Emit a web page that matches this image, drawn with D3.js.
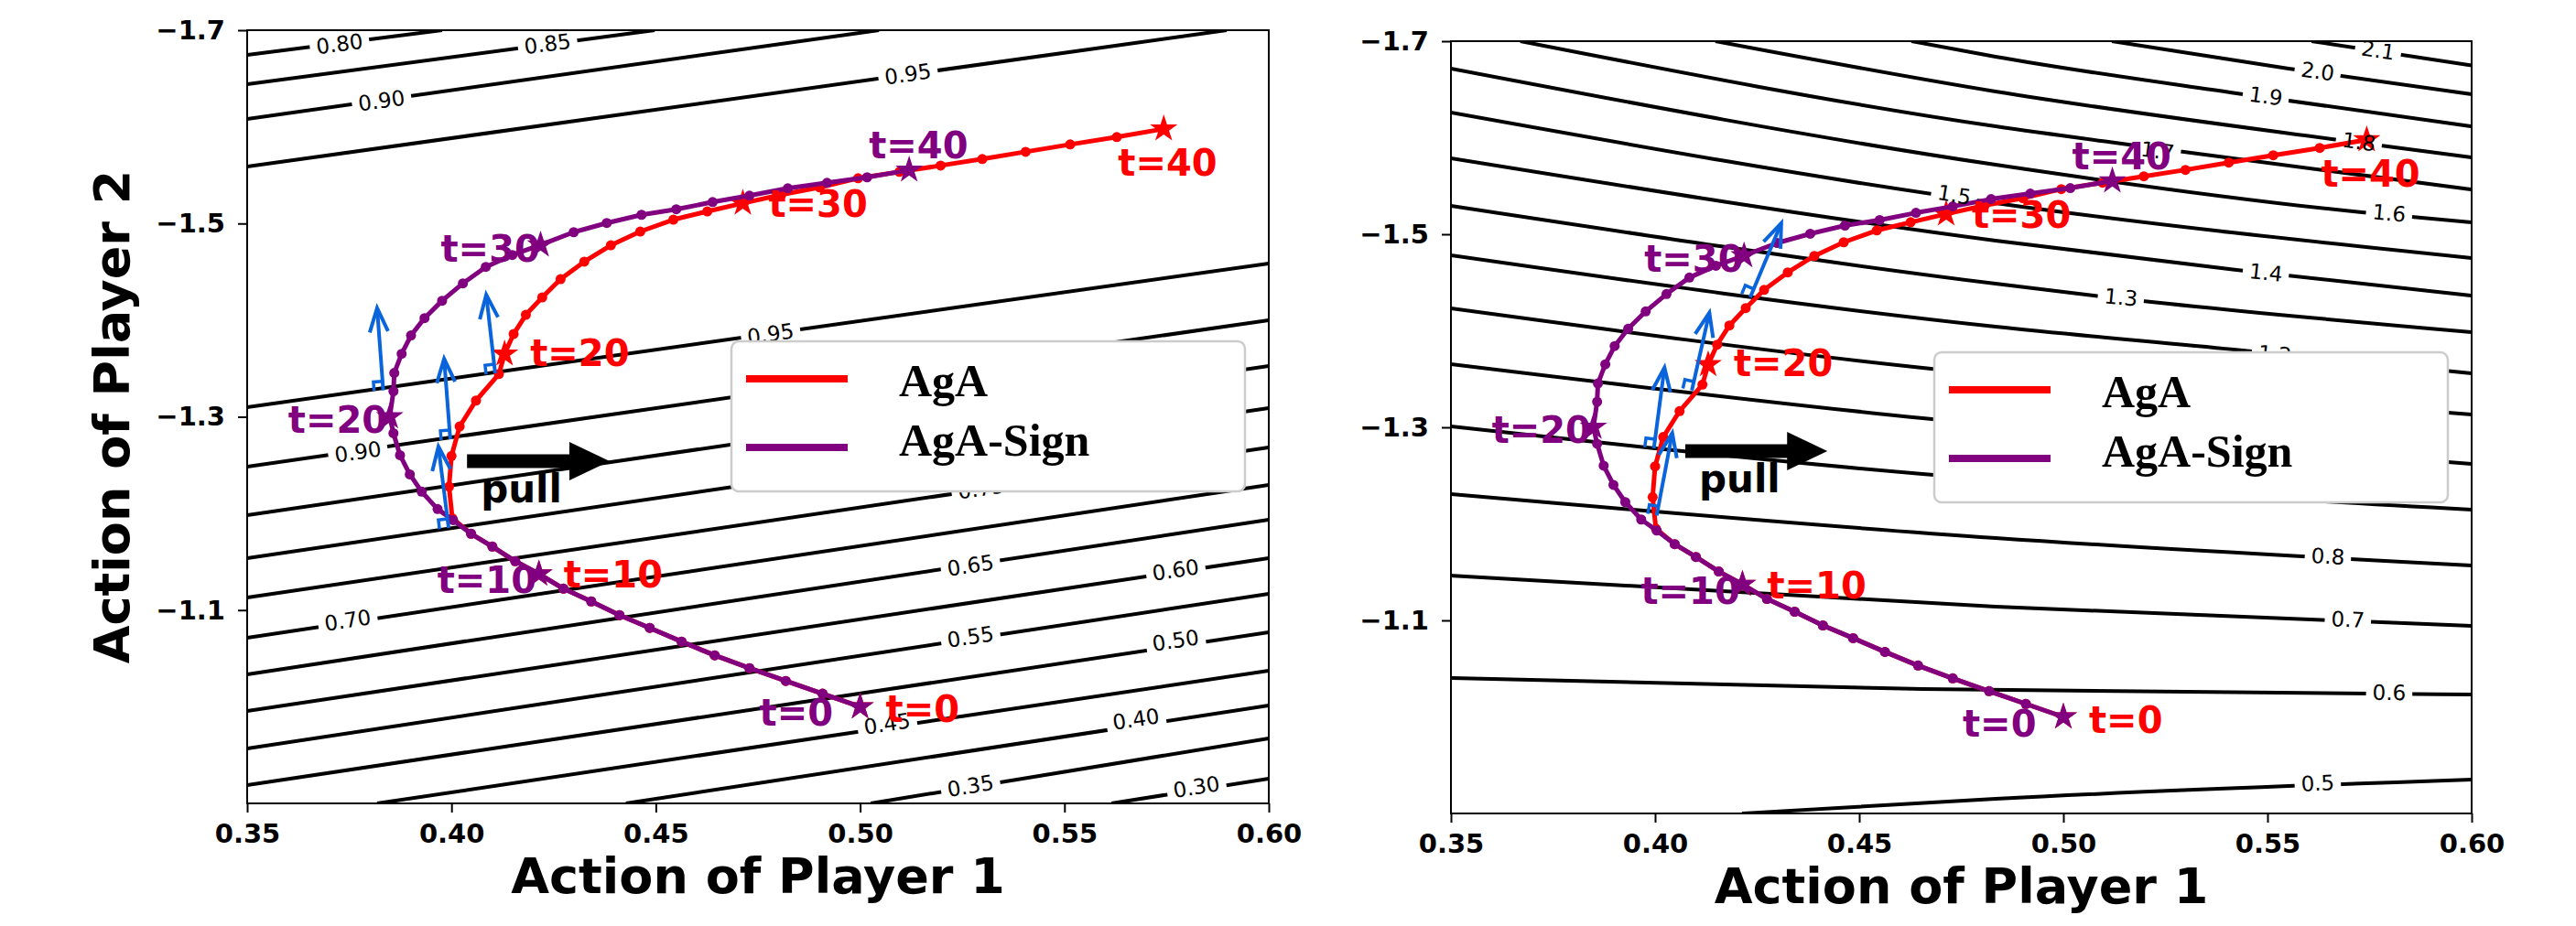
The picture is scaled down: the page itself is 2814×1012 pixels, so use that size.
<!DOCTYPE html>
<html>
<head>
<meta charset="utf-8">
<script src="https://cdn.jsdelivr.net/npm/d3@7"></script>
<style>
body { margin: 0; background: #fff; }
text { font-family: "DejaVu Sans", sans-serif; }
</style>
</head>
<body>
<div class="chart"></div>
<script>
var svgWidth = 2814;
var svgHeight = 1012;

var xDomain = [0.35, 0.60];
var yDomain = [-1.7, -0.9];
var xTicks = [0.35, 0.40, 0.45, 0.50, 0.55, 0.60];
var yTicks = [-1.7, -1.5, -1.3, -1.1];

// trajectories, one point per step t = 0..40
var agaX = [0.5000, 0.4908, 0.4818, 0.4729, 0.4644, 0.4563, 0.4485, 0.4411, 0.4342, 0.4274,
    0.4214, 0.4156, 0.4100, 0.4048, 0.4002, 0.3994, 0.4000, 0.4020, 0.4060, 0.4116,
    0.4130, 0.4152, 0.4182, 0.4222, 0.4267, 0.4325, 0.4390, 0.4462, 0.4543, 0.4626,
    0.4713, 0.4807, 0.4901, 0.4995, 0.5096, 0.5197, 0.5299, 0.5405, 0.5514, 0.5628, 0.5743];
var agaY = [-1.0000, -1.0135, -1.0267, -1.0400, -1.0532, -1.0674, -1.0816, -1.0948, -1.1090, -1.1222,
    -1.1374, -1.1506, -1.1657, -1.1790, -1.1950, -1.2277, -1.2595, -1.2900, -1.3168, -1.3442,
    -1.3650, -1.3856, -1.4055, -1.4235, -1.4424, -1.4605, -1.4775, -1.4917, -1.5040, -1.5125,
    -1.5210, -1.5298, -1.5374, -1.5468, -1.5534, -1.5600, -1.5667, -1.5742, -1.5818, -1.5894, -1.5979];
var signX = [0.5000, 0.4908, 0.4818, 0.4729, 0.4644, 0.4563, 0.4485, 0.4411, 0.4342, 0.4274,
    0.4214, 0.4156, 0.4100, 0.4048, 0.4004, 0.3966, 0.3927, 0.3898, 0.3874, 0.3858,
    0.3849, 0.3858, 0.3860, 0.3878, 0.3901, 0.3934, 0.3977, 0.4028, 0.4084, 0.4149,
    0.4218, 0.4299, 0.4380, 0.4465, 0.4550, 0.4639, 0.4729, 0.4823, 0.4919, 0.5017, 0.5120];
var signY = [-1.0000, -1.0135, -1.0267, -1.0400, -1.0532, -1.0674, -1.0816, -1.0948, -1.1090, -1.1222,
    -1.1374, -1.1506, -1.1657, -1.1790, -1.1931, -1.2045, -1.2225, -1.2404, -1.2603, -1.2830,
    -1.3000, -1.3265, -1.3454, -1.3652, -1.3842, -1.4021, -1.4201, -1.4381, -1.4551, -1.4674,
    -1.4778, -1.4910, -1.5005, -1.5090, -1.5147, -1.5222, -1.5288, -1.5364, -1.5421, -1.5478, -1.5553];
var markedSteps = [0, 10, 20, 30, 40];

// left game: contour levels and the lines
var leftLevels = [0.80, 0.85, 0.90, 0.95, 0.95, 0.90, 0.85, 0.80, 0.75, 0.70, 0.65, 0.60, 0.55, 0.50, 0.45, 0.40, 0.35, 0.30];
var leftLines = [
    [[0.35, -1.6744], [0.3977, -1.70]],
    [[0.35, -1.6441], [0.4497, -1.70]],
    [[0.35, -1.6082], [0.5046, -1.70]],
    [[0.35, -1.5589], [0.5897, -1.70]],
    [[0.35, -1.3099], [0.60, -1.4586]],
    [[0.35, -1.2484], [0.60, -1.3999]],
    [[0.35, -1.1982], [0.60, -1.3525]],
    [[0.35, -1.1537], [0.60, -1.3090]],
    [[0.35, -1.1130], [0.60, -1.2683]],
    [[0.35, -1.0714], [0.60, -1.2295]],
    [[0.35, -1.0335], [0.60, -1.1935]],
    [[0.35, -0.9956], [0.60, -1.1537]],
    [[0.35, -0.9568], [0.60, -1.1168]],
    [[0.35, -0.9189], [0.60, -1.0770]],
    [[0.3818, -0.90], [0.60, -1.0373]],
    [[0.4427, -0.90], [0.60, -1.0013]],
    [[0.5026, -0.90], [0.60, -0.9672]],
    [[0.5615, -0.90], [0.60, -0.9256]]
];
var leftLabelLevels = [0.80, 0.85, 0.90, 0.95, 0.95, 0.90, 0.75, 0.70, 0.65, 0.60, 0.55, 0.50, 0.45, 0.40, 0.35, 0.30];
var leftLabelX = [0.3726, 0.4235, 0.3829, 0.5117, 0.4781, 0.3771, 0.5296, 0.3746, 0.5270, 0.5772, 0.5270, 0.5772, 0.5066, 0.5675, 0.5270, 0.5823];
var leftLabelY = [-1.6858, -1.6858, -1.6271, -1.6546, -1.3857, -1.2636, -1.2257, -1.0894, -1.1462, -1.1414, -1.0723, -1.0685, -0.9824, -0.9871, -0.9180, -0.9170];
// gradient arrows: base x, base y, tip x, tip y
var leftArrows = [
    [0.3833, -1.3273, 0.3818, -1.4125],
    [0.3997, -1.2768, 0.3982, -1.3601],
    [0.4107, -1.3450, 0.4085, -1.4264],
    [0.3993, -1.1850, 0.3968, -1.2692]
];
var leftPull = [0.4038, 0.4387, -1.2541];

// right game
var rightLevels = [2.1, 2.0, 1.9, 1.8, 1.7, 1.6, 1.5, 1.4, 1.3, 1.2, 1.1, 1.0, 0.9, 0.8, 0.7, 0.6, 0.5];
var rightLines = [
    [[0.5608, -1.70], [0.60, -1.6749]],
    [[0.5119, -1.70], [0.5552, -1.6716], [0.60, -1.6450]],
    [[0.4628, -1.70], [0.4834, -1.6839], [0.5424, -1.6460], [0.60, -1.6118]],
    [[0.4148, -1.70], [0.4834, -1.6479], [0.5657, -1.5986], [0.60, -1.5796]],
    [[0.3670, -1.70], [0.4834, -1.6118], [0.5193, -1.5910], [0.60, -1.5464]],
    [[0.35, -1.6716], [0.4834, -1.5720], [0.5731, -1.5227], [0.60, -1.5123]],
    [[0.35, -1.6260], [0.4834, -1.5322], [0.60, -1.4754]],
    [[0.35, -1.5787], [0.4834, -1.4934], [0.5424, -1.4630], [0.60, -1.4365]],
    [[0.35, -1.5294], [0.4834, -1.4488], [0.5074, -1.4365], [0.60, -1.3986]],
    [[0.35, -1.4782], [0.4834, -1.4043], [0.5417, -1.3806], [0.60, -1.3559]],
    [[0.35, -1.4232], [0.4655, -1.3616], [0.60, -1.3133]],
    [[0.35, -1.3654], [0.4655, -1.3095], [0.60, -1.2621]],
    [[0.35, -1.3009], [0.4655, -1.2517], [0.60, -1.2147]],
    [[0.35, -1.2308], [0.4834, -1.1853], [0.60, -1.1569]],
    [[0.35, -1.1464], [0.4834, -1.1142], [0.60, -1.0943]],
    [[0.35, -1.0403], [0.4655, -1.0289], [0.60, -1.0232]],
    [[0.4213, -0.90], [0.4834, -0.9152], [0.60, -0.9351]]
];
var rightLabelLevels = [2.1, 2.0, 1.9, 1.8, 1.7, 1.6, 1.5, 1.4, 1.3, 1.2, 0.8, 0.7, 0.6, 0.5];
var rightLabelX = [0.5771, 0.5623, 0.5496, 0.5724, 0.5231, 0.5798, 0.4733, 0.5496, 0.5141, 0.5518, 0.5648, 0.5697, 0.5798, 0.5623];
var rightLabelY = [-1.6905, -1.6687, -1.6431, -1.5957, -1.5863, -1.5218, -1.5408, -1.4602, -1.4346, -1.3758, -1.1664, -1.1009, -1.0251, -0.9313];
var rightArrows = [
    [0.4233, -1.4346, 0.4309, -1.5114],
    [0.4090, -1.3382, 0.4133, -1.4188],
    [0.3997, -1.2782, 0.4023, -1.3619],
    [0.4004, -1.2087, 0.4042, -1.2940]
];
var rightPull = [0.4074, 0.4422, -1.2754];

var seriesNames = ["AgA", "AgA-Sign"];
var stepLabels = ["t=0", "t=10", "t=20", "t=30", "t=40"];

// styles
var agaColor = "#ff0000";
var signColor = "#800080";
var arrowColor = "#0a64dc";
var agaOffsets = [[28, 17], [27, 15], [28, 13], [28, 15], [-50, 51]];
var signOffsets = [[-110, 21], [-111, 21], [-111, 17], [-109, 18], [-44, -13]];

var panels = [
    {id: "L", left: 270, right: 1386, top: 33, bottom: 878, levels: leftLevels, lines: leftLines,
        labelLevels: leftLabelLevels, labelX: leftLabelX, labelY: leftLabelY, fmt: ".2f",
        arrows: leftArrows, pull: leftPull, yTitle: true},
    {id: "R", left: 1585, right: 2700, top: 45, bottom: 889, levels: rightLevels, lines: rightLines,
        labelLevels: rightLabelLevels, labelX: rightLabelX, labelY: rightLabelY, fmt: ".1f",
        arrows: rightArrows, pull: rightPull, yTitle: false}
];

var $svg = d3.select(".chart")
    .append("svg")
    .attr("width", svgWidth)
    .attr("height", svgHeight)
    .style("background", "#fff");

var agaPts = agaX.map((d, i) => [d, agaY[i]]);
var signPts = signX.map((d, i) => [d, signY[i]]);

panels.forEach(drawPanel);

function drawPanel(p) {
    var xScale = d3.scaleLinear().domain(xDomain).range([p.left, p.right]);
    var yScale = d3.scaleLinear().domain(yDomain).range([p.top, p.bottom]);

    var $g = $svg.append("g");

    $svg.append("clipPath")
        .attr("id", "clip" + p.id)
        .append("rect")
        .attr("x", p.left).attr("y", p.top)
        .attr("width", p.right - p.left).attr("height", p.bottom - p.top);

    var $contours = $g.append("g").attr("clip-path", `url(#clip${p.id})`);
    var $marks = $g.append("g");
    var $texts = $g.append("g");

    var contourLine = d3.line()
        .x(d => xScale(d[0]))
        .y(d => yScale(d[1]))
        .curve(d3.curveMonotoneX);

    $contours.selectAll(".contour")
        .data(p.lines)
        .enter()
        .append("path")
        .attr("class", "contour")
        .attr("d", contourLine)
        .attr("fill", "none")
        .attr("stroke", "black")
        .attr("stroke-width", 4);

    // inline contour labels, with a gap cut into the line
    var fmt = d3.format(p.fmt);
    p.labelLevels.forEach((lev, i) => {
        var lx = p.labelX[i], ly = p.labelY[i];
        var best = null;
        p.lines.forEach((pts, j) => {
            if (p.levels[j] !== lev) return;
            for (var k = 0; k < pts.length - 1; k++) {
                var a = pts[k], b = pts[k + 1];
                if (lx >= a[0] && lx <= b[0]) {
                    var yv = a[1] + (lx - a[0]) / (b[0] - a[0]) * (b[1] - a[1]);
                    var dist = Math.abs(yv - ly);
                    if (!best || dist < best.dist) best = {dist: dist, a: a, b: b};
                }
            }
        });
        var angle = 0;
        if (best) {
            angle = Math.atan2(yScale(best.b[1]) - yScale(best.a[1]), xScale(best.b[0]) - xScale(best.a[0])) * 180 / Math.PI;
        }
        var tf = `translate(${xScale(lx)},${yScale(ly)}) rotate(${angle})`;
        var $t = $texts.append("text")
            .attr("transform", tf)
            .attr("text-anchor", "middle")
            .attr("dominant-baseline", "central")
            .style("font-size", "23px")
            .attr("fill", "black")
            .text(fmt(lev));
        var w = $t.node().getComputedTextLength();
        $contours.append("rect")
            .attr("transform", tf)
            .attr("x", -w / 2 - 7).attr("y", -10)
            .attr("width", w + 14).attr("height", 20)
            .attr("fill", "white");
    });

    // trajectories
    var trajLine = d3.line().x(d => xScale(d[0])).y(d => yScale(d[1]));
    var star = d3.symbol().type(d3.symbolStar).size(280);

    [[agaPts, agaColor], [signPts, signColor]].forEach(s => {
        var pts = s[0], col = s[1];
        $marks.append("path")
            .attr("d", trajLine(pts))
            .attr("fill", "none")
            .attr("stroke", col)
            .attr("stroke-width", 5)
            .attr("stroke-linejoin", "round");
        $marks.selectAll(null)
            .data(pts)
            .enter()
            .append("circle")
            .attr("cx", d => xScale(d[0]))
            .attr("cy", d => yScale(d[1]))
            .attr("r", 5.5)
            .attr("fill", col);
        $marks.selectAll(null)
            .data(markedSteps)
            .enter()
            .append("path")
            .attr("d", star)
            .attr("transform", t => `translate(${xScale(pts[t][0])},${yScale(pts[t][1])})`)
            .attr("fill", col);
    });

    // blue gradient arrows with right-angle mark at the base
    p.arrows.forEach(a => {
        var bx = xScale(a[0]), by = yScale(a[1]), tx = xScale(a[2]), ty = yScale(a[3]);
        var len = Math.hypot(tx - bx, ty - by);
        var ux = (tx - bx) / len, uy = (ty - by) / len;
        var px = uy, py = -ux;
        var hl = 26, hw = 10, s = 10;
        $marks.append("line")
            .attr("x1", bx).attr("y1", by).attr("x2", tx).attr("y2", ty)
            .attr("stroke", arrowColor).attr("stroke-width", 4);
        $marks.append("path")
            .attr("d", `M${tx - ux * hl + px * hw},${ty - uy * hl + py * hw}L${tx},${ty}L${tx - ux * hl - px * hw},${ty - uy * hl - py * hw}`)
            .attr("fill", "none").attr("stroke", arrowColor).attr("stroke-width", 4)
            .attr("stroke-linejoin", "miter");
        $marks.append("path")
            .attr("d", `M${bx + ux * s},${by + uy * s}L${bx + ux * s + px * s},${by + uy * s + py * s}L${bx + px * s},${by + py * s}`)
            .attr("fill", "none").attr("stroke", arrowColor).attr("stroke-width", 3.5);
    });

    // black "pull" arrow
    var x0 = xScale(p.pull[0]), x1 = xScale(p.pull[1]), yc = yScale(p.pull[2]);
    var xh = x1 - 44;
    $marks.append("path")
        .attr("d", `M${x0},${yc - 7.5}L${xh},${yc - 7.5}L${xh},${yc - 21}L${x1},${yc}L${xh},${yc + 21}L${xh},${yc + 7.5}L${x0},${yc + 7.5}Z`)
        .attr("fill", "black");
    $texts.append("text")
        .attr("x", x0 + 15)
        .attr("y", yc + 45)
        .style("font-size", "42px")
        .style("font-weight", "bold")
        .attr("fill", "black")
        .text("pull");

    // step labels
    [[agaPts, agaColor, agaOffsets], [signPts, signColor, signOffsets]].forEach(s => {
        markedSteps.forEach((t, i) => {
            $texts.append("text")
                .attr("x", xScale(s[0][t][0]) + s[2][i][0])
                .attr("y", yScale(s[0][t][1]) + s[2][i][1])
                .style("font-size", "40px")
                .style("font-weight", "bold")
                .attr("fill", s[1])
                .text(stepLabels[i]);
        });
    });

    // frame and axes
    $g.append("rect")
        .attr("x", p.left).attr("y", p.top)
        .attr("width", p.right - p.left).attr("height", p.bottom - p.top)
        .attr("fill", "none").attr("stroke", "black").attr("stroke-width", 2);

    var xAxis = d3.axisBottom(xScale).tickValues(xTicks).tickFormat(d3.format(".2f")).tickSize(10).tickPadding(12);
    var yAxis = d3.axisLeft(yScale).tickValues(yTicks).tickFormat(d3.format(".1f")).tickSize(10).tickPadding(14);

    var $xa = $g.append("g").attr("transform", `translate(0,${p.bottom})`).call(xAxis);
    var $ya = $g.append("g").attr("transform", `translate(${p.left},0)`).call(yAxis);
    [$xa, $ya].forEach(ax => {
        ax.select(".domain").remove();
        ax.selectAll("line").attr("stroke", "black").attr("stroke-width", 2);
        ax.selectAll("text")
            .attr("fill", "black")
            .style("font-family", "'DejaVu Sans', sans-serif")
            .style("font-size", "29px")
            .style("font-weight", "bold");
    });

    $g.append("text")
        .attr("x", (p.left + p.right) / 2)
        .attr("y", p.bottom + 98)
        .attr("text-anchor", "middle")
        .style("font-size", "54px")
        .style("font-weight", "bold")
        .text("Action of Player 1");

    if (p.yTitle) {
        $g.append("text")
            .attr("transform", `translate(141,${(p.top + p.bottom) / 2}) rotate(-90)`)
            .attr("text-anchor", "middle")
            .style("font-size", "54px")
            .style("font-weight", "bold")
            .text("Action of Player 2");
    }

    // legend
    var lx = p.right - 587, ly = p.top + 340;
    var $legend = $g.append("g").attr("transform", `translate(${lx},${ly})`);
    $legend.append("rect")
        .attr("x", 0).attr("y", 0)
        .attr("width", 561).attr("height", 164)
        .attr("rx", 8).attr("ry", 8)
        .attr("fill", "white")
        .attr("stroke", "#cccccc")
        .attr("stroke-width", 2.5);
    [agaColor, signColor].forEach((col, i) => {
        $legend.append("line")
            .attr("x1", 16).attr("x2", 127)
            .attr("y1", 41 + i * 75).attr("y2", 41 + i * 75)
            .attr("stroke", col).attr("stroke-width", 8);
        $legend.append("text")
            .attr("x", 183)
            .attr("y", 60 + i * 65)
            .style("font-family", "'Liberation Serif', 'Times New Roman', serif")
            .style("font-size", "50px")
            .style("font-weight", "bold")
            .attr("fill", "black")
            .text(seriesNames[i]);
    });
}
</script>
</body>
</html>
